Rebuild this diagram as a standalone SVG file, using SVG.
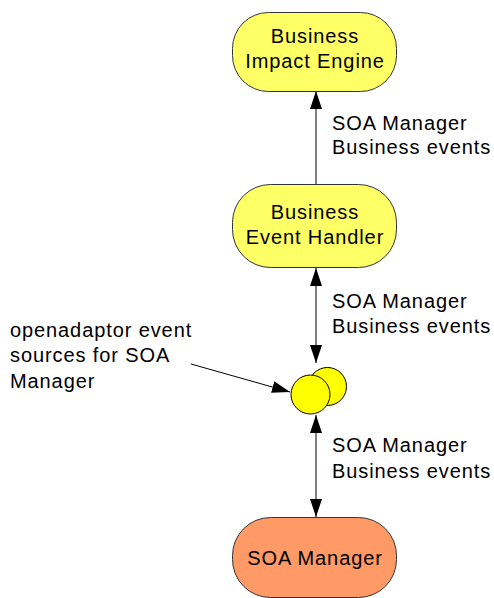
<svg xmlns="http://www.w3.org/2000/svg" width="494" height="598" viewBox="0 0 494 598">
<style>
text{font-family:"Liberation Sans",Arial,sans-serif;font-size:20px;letter-spacing:0.9px;fill:#000}
.node{stroke:#333;stroke-width:1}
.y{fill:#ffff66}
.o{fill:#ff9966}
.c{fill:#ffff00;stroke:#000;stroke-width:1}
.ln{stroke:#000;stroke-width:1;fill:none}
.mid{text-anchor:middle}
</style>
<defs>
<marker id="ah" viewBox="0 0 18 12" refX="18" refY="6" markerWidth="18" markerHeight="12" markerUnits="userSpaceOnUse" orient="auto-start-reverse">
<path d="M0,0 L18,6 L0,12 z" fill="#000"/>
</marker>
</defs>
<g id="connectors">
<line class="ln" x1="316" y1="184" x2="316" y2="91" marker-end="url(#ah)"/>
<line class="ln" x1="316" y1="268" x2="316" y2="363" marker-start="url(#ah)" marker-end="url(#ah)"/>
<line class="ln" x1="316" y1="415" x2="316" y2="517" marker-start="url(#ah)" marker-end="url(#ah)"/>
<line class="ln" x1="191" y1="364" x2="290" y2="392" marker-end="url(#ah)"/>
</g>
<g id="bie">
<rect class="node y" x="232.5" y="12.5" width="164" height="79" rx="36" ry="36"/>
<text class="mid" x="315" y="43">Business</text>
<text class="mid" x="315" y="68">Impact Engine</text>
</g>
<g id="beh">
<rect class="node y" x="232.5" y="184.5" width="164" height="83" rx="38" ry="38"/>
<text class="mid" x="315" y="219">Business</text>
<text class="mid" x="315" y="244">Event Handler</text>
</g>
<g id="sources">
<circle class="c" cx="327.5" cy="386.5" r="19"/>
<circle class="c" cx="310.5" cy="394.5" r="19.5"/>
</g>
<g id="soa">
<rect class="node o" x="232.5" y="517.5" width="164" height="80" rx="38" ry="38"/>
<text class="mid" x="315" y="565">SOA Manager</text>
</g>
<g id="labels">
<text x="332" y="130">SOA Manager</text>
<text x="332" y="154">Business events</text>
<text x="332" y="308">SOA Manager</text>
<text x="332" y="333">Business events</text>
<text x="332" y="452">SOA Manager</text>
<text x="332" y="478">Business events</text>
<text x="10" y="337">openadaptor event</text>
<text x="10" y="362">sources for SOA</text>
<text x="10" y="388">Manager</text>
</g>
</svg>
